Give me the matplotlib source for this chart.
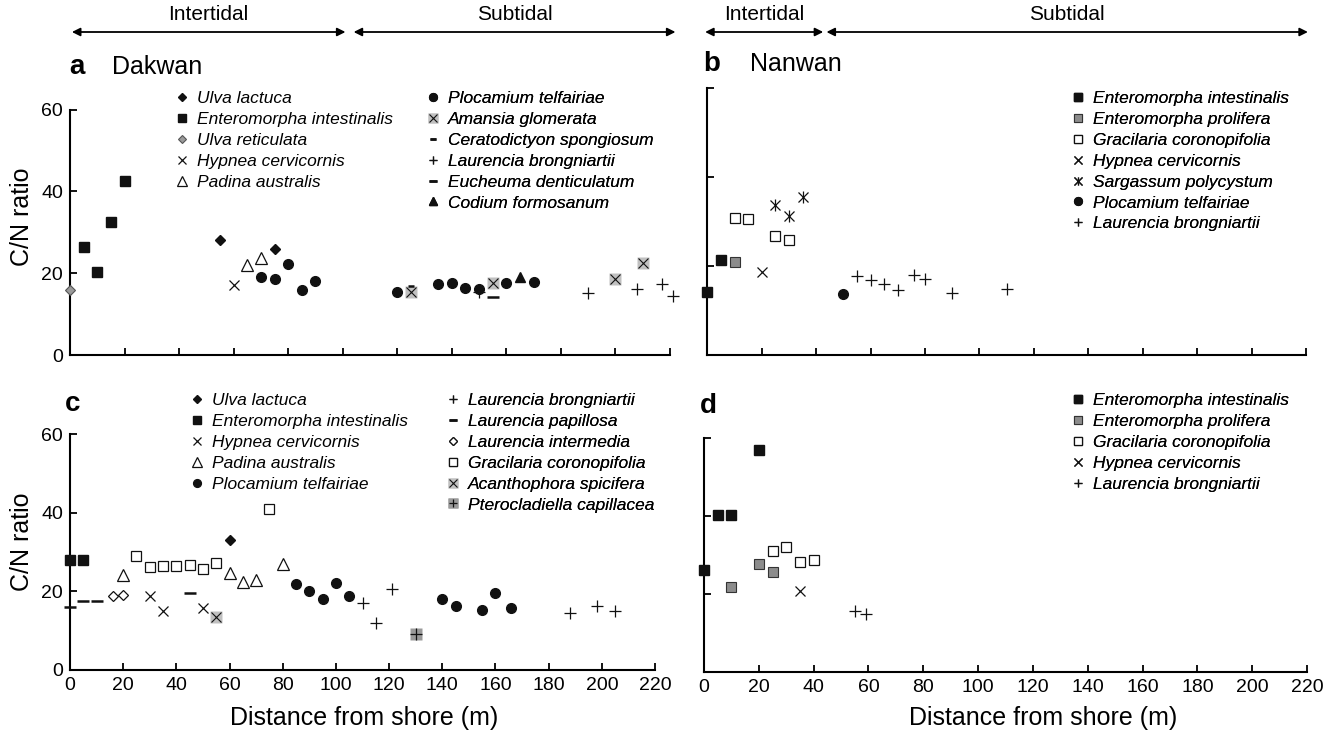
import matplotlib
matplotlib.use('Agg')
import matplotlib.pyplot as plt
from matplotlib.lines import Line2D

plt.rcParams['font.family'] = ['Liberation Sans', 'DejaVu Sans']

# ---- data (distance from shore in m, C/N ratio) ----
# a  Dakwan
a_ulva_lactuca_x = [55, 75]
a_ulva_lactuca_y = [28.0, 26.0]
a_entero_int_x = [5, 10, 15, 20]
a_entero_int_y = [26.3, 20.2, 32.5, 42.5]
a_ulva_ret_x = [0]
a_ulva_ret_y = [16.0]
a_hypnea_x = [60]
a_hypnea_y = [17.2]
a_padina_x = [65, 70]
a_padina_y = [22.1, 23.6]
a_plocamium_x = [70, 75, 80, 85, 90, 120, 135, 140, 145, 150, 160, 170]
a_plocamium_y = [19.1, 18.5, 22.2, 15.8, 18.0, 15.3, 17.3, 17.5, 16.5, 16.2, 17.5, 17.9]
a_amansia_x = [125, 155, 200, 210]
a_amansia_y = [15.3, 17.5, 18.5, 22.6]
a_cerato_x = [125]
a_cerato_y = [16.9]
a_laur_brong_x = [150, 190, 208, 217, 221]
a_laur_brong_y = [15.3, 15.2, 16.1, 17.3, 14.5]
a_eucheuma_x = [155]
a_eucheuma_y = [14.2]
a_codium_x = [165]
a_codium_y = [19.0]

# b  Nanwan
b_entero_int_x = [0, 5]
b_entero_int_y = [14.2, 21.3]
b_entero_pro_x = [10]
b_entero_pro_y = [21.0]
b_gracilaria_x = [10, 15, 25, 30]
b_gracilaria_y = [30.7, 30.5, 26.8, 25.9]
b_hypnea_x = [20]
b_hypnea_y = [18.6]
b_sargassum_x = [25, 30, 35]
b_sargassum_y = [33.6, 31.3, 35.6]
b_plocamium_x = [50]
b_plocamium_y = [13.6]
b_laur_brong_x = [55, 60, 65, 70, 76, 80, 90, 110]
b_laur_brong_y = [17.7, 16.8, 15.9, 14.5, 18.0, 17.0, 14.0, 14.9]

# c  Dakwan (second survey)
c_ulva_lactuca_x = [60]
c_ulva_lactuca_y = [33.1]
c_entero_int_x = [0, 5]
c_entero_int_y = [27.9, 28.0]
c_hypnea_x = [30, 35, 50]
c_hypnea_y = [18.9, 15.1, 15.9]
c_padina_x = [20, 60, 65, 70, 80]
c_padina_y = [24.3, 24.8, 22.5, 22.9, 27.1]
c_plocamium_x = [85, 90, 95, 100, 105, 140, 145, 155, 160, 166]
c_plocamium_y = [21.8, 20.2, 18.2, 22.1, 18.8, 18.0, 16.4, 15.3, 19.7, 15.9]
c_laur_brong_x = [110, 115, 121, 188, 198, 205]
c_laur_brong_y = [17.1, 12.0, 20.5, 14.4, 16.3, 15.0]
c_laur_pap_x = [0, 5, 10, 45]
c_laur_pap_y = [16.1, 17.6, 17.6, 19.7]
c_laur_int_x = [16, 20]
c_laur_int_y = [18.8, 19.1]
c_gracilaria_x = [25, 30, 35, 40, 45, 50, 55, 75]
c_gracilaria_y = [29.1, 26.2, 26.5, 26.5, 26.7, 25.6, 27.3, 41.1]
c_acantho_x = [55]
c_acantho_y = [13.6]
c_ptero_x = [130]
c_ptero_y = [9.2]

# d  Nanwan (second survey)
d_entero_int_x = [0, 5, 10, 20]
d_entero_int_y = [26.1, 40.3, 40.3, 57.0]
d_entero_pro_x = [10, 20, 25]
d_entero_pro_y = [21.8, 27.6, 25.6]
d_gracilaria_x = [25, 30, 35, 40]
d_gracilaria_y = [31.1, 32.1, 28.1, 28.7]
d_hypnea_x = [35]
d_hypnea_y = [20.8]
d_laur_brong_x = [55, 59]
d_laur_brong_y = [15.6, 14.8]

# zone extents along the shore (m)
a_zones = [('Intertidal', 0.7, 101), ('Subtidal', 104, 222)]
b_zones = [('Intertidal', -0.8, 42.6), ('Subtidal', 43.8, 220.7)]

# ---- marker styles ----
K = '#111111'
STYLES = {
    'Ulva lactuca': [dict(marker='D', ms=5.5, mfc=K, mec=K)],
    'Enteromorpha intestinalis': [dict(marker='s', ms=7, mfc=K, mec=K)],
    'Ulva reticulata': [dict(marker='D', ms=5.5, mfc='#9a9a9a', mec='#555555', mew=0.8)],
    'Hypnea cervicornis': [dict(marker='x', ms=7, mec=K, mew=0.9)],
    'Padina australis': [dict(marker='^', ms=9, mfc='white', mec=K, mew=0.9)],
    'Plocamium telfairiae': [dict(marker='o', ms=7, mfc=K, mec=K)],
    'Amansia glomerata': [dict(marker='s', ms=9, mfc='#c0c0c0', mec='none'),
                          dict(marker='x', ms=7, mec=K, mew=0.8)],
    'Ceratodictyon spongiosum': [dict(marker='_', ms=5, mec=K, mew=1.8)],
    'Laurencia brongniartii': [dict(marker='+', ms=8, mec=K, mew=0.9)],
    'Eucheuma denticulatum': [dict(marker='_', ms=8, mec=K, mew=1.8)],
    'Codium formosanum': [dict(marker='^', ms=7.5, mfc=K, mec=K)],
    'Enteromorpha prolifera': [dict(marker='s', ms=7, mfc='#8c8c8c', mec='#333333', mew=0.8)],
    'Gracilaria coronopifolia': [dict(marker='s', ms=7, mfc='white', mec=K, mew=0.9)],
    'Sargassum polycystum': [dict(marker='x', ms=6.5, mec=K, mew=0.9),
                             dict(marker='|', ms=8, mec=K, mew=0.9)],
    'Laurencia papillosa': [dict(marker='_', ms=8, mec=K, mew=1.8)],
    'Laurencia intermedia': [dict(marker='D', ms=5.5, mfc='white', mec=K, mew=0.9)],
    'Acanthophora spicifera': [dict(marker='s', ms=9, mfc='#c0c0c0', mec='none'),
                               dict(marker='x', ms=7, mec=K, mew=0.8)],
    'Pterocladiella capillacea': [dict(marker='s', ms=9, mfc='#9a9a9a', mec='none'),
                                  dict(marker='+', ms=8, mec=K, mew=0.9)],
}

W, H = 1339, 738
fig = plt.figure(figsize=(W / 100, H / 100), dpi=100)


def fx(x):
    return x / W


def fy(y):
    return 1 - y / H


def make_axes(left, right, bottom, top):
    return fig.add_axes([fx(left), fy(bottom), fx(right - left), (bottom - top) / H])


def setup(ax, xlabels, ylabels):
    ax.set_xlim(0, 220)
    ax.set_ylim(0, 60)
    ax.set_xticks(range(0, 221, 20))
    ax.set_yticks([0, 20, 40, 60])
    for s in ['top', 'right']:
        ax.spines[s].set_visible(False)
    for s in ['left', 'bottom']:
        ax.spines[s].set_linewidth(1.5)
    ax.tick_params(direction='in', length=5, width=1.3, labelsize=14, pad=5)
    if not xlabels:
        ax.set_xticklabels([])
    if not ylabels:
        ax.set_yticklabels([])


def plot_species(ax, name, xs, ys):
    for layer in STYLES[name]:
        ax.plot(xs, ys, ls='none', clip_on=False, zorder=3, **layer)


def add_legend(ax, names, cx, cy):
    handles = []
    for n in names:
        parts = []
        for layer in STYLES[n]:
            kw = dict(layer)
            kw['ms'] = kw['ms'] * 0.8
            parts.append(Line2D([], [], ls='none', **kw))
        handles.append(tuple(parts))
    leg = ax.legend(handles, names, loc='upper left',
                    bbox_to_anchor=(fx(cx - 5), fy(cy - 6)),
                    bbox_transform=fig.transFigure, frameon=False,
                    borderpad=0, borderaxespad=0, handlelength=0.6,
                    handletextpad=0.55, labelspacing=0.33,
                    prop=dict(style='italic', size=12.5))
    ax.add_artist(leg)


def zones(ax, zone_list, y_arrow, y_text):
    for label, x0, x1 in zone_list:
        ax.annotate('', xy=(x1, fy(y_arrow)), xytext=(x0, fy(y_arrow)),
                    xycoords=('data', 'figure fraction'),
                    textcoords=('data', 'figure fraction'),
                    annotation_clip=False,
                    arrowprops=dict(arrowstyle='<|-|>', color='black', lw=1.3,
                                    mutation_scale=12, shrinkA=0, shrinkB=0))
        ax.annotate(label, xy=((x0 + x1) / 2, fy(y_text)),
                    xycoords=('data', 'figure fraction'), ha='center',
                    va='center', fontsize=15, annotation_clip=False)


ax_a = make_axes(70, 670, 355, 109.6)
ax_b = make_axes(707.3, 1306, 355, 88)
ax_c = make_axes(70, 655, 670, 434.3)
ax_d = make_axes(704, 1307, 671.7, 438.3)

setup(ax_a, False, True)
setup(ax_b, False, False)
setup(ax_c, True, True)
setup(ax_d, True, False)

# panel a
plot_species(ax_a, 'Ulva reticulata', a_ulva_ret_x, a_ulva_ret_y)
plot_species(ax_a, 'Enteromorpha intestinalis', a_entero_int_x, a_entero_int_y)
plot_species(ax_a, 'Ulva lactuca', a_ulva_lactuca_x, a_ulva_lactuca_y)
plot_species(ax_a, 'Hypnea cervicornis', a_hypnea_x, a_hypnea_y)
plot_species(ax_a, 'Padina australis', a_padina_x, a_padina_y)
plot_species(ax_a, 'Plocamium telfairiae', a_plocamium_x, a_plocamium_y)
plot_species(ax_a, 'Amansia glomerata', a_amansia_x, a_amansia_y)
plot_species(ax_a, 'Ceratodictyon spongiosum', a_cerato_x, a_cerato_y)
plot_species(ax_a, 'Laurencia brongniartii', a_laur_brong_x, a_laur_brong_y)
plot_species(ax_a, 'Eucheuma denticulatum', a_eucheuma_x, a_eucheuma_y)
plot_species(ax_a, 'Codium formosanum', a_codium_x, a_codium_y)
add_legend(ax_a, ['Ulva lactuca', 'Enteromorpha intestinalis', 'Ulva reticulata',
                  'Hypnea cervicornis', 'Padina australis'], 182, 97)
add_legend(ax_a, ['Plocamium telfairiae', 'Amansia glomerata', 'Ceratodictyon spongiosum',
                  'Laurencia brongniartii', 'Eucheuma denticulatum', 'Codium formosanum'],
           433, 97)

# panel b
plot_species(ax_b, 'Enteromorpha intestinalis', b_entero_int_x, b_entero_int_y)
plot_species(ax_b, 'Enteromorpha prolifera', b_entero_pro_x, b_entero_pro_y)
plot_species(ax_b, 'Gracilaria coronopifolia', b_gracilaria_x, b_gracilaria_y)
plot_species(ax_b, 'Hypnea cervicornis', b_hypnea_x, b_hypnea_y)
plot_species(ax_b, 'Sargassum polycystum', b_sargassum_x, b_sargassum_y)
plot_species(ax_b, 'Plocamium telfairiae', b_plocamium_x, b_plocamium_y)
plot_species(ax_b, 'Laurencia brongniartii', b_laur_brong_x, b_laur_brong_y)
add_legend(ax_b, ['Enteromorpha intestinalis', 'Enteromorpha prolifera',
                  'Gracilaria coronopifolia', 'Hypnea cervicornis', 'Sargassum polycystum',
                  'Plocamium telfairiae', 'Laurencia brongniartii'], 1078, 97)

# panel c
plot_species(ax_c, 'Enteromorpha intestinalis', c_entero_int_x, c_entero_int_y)
plot_species(ax_c, 'Laurencia papillosa', c_laur_pap_x, c_laur_pap_y)
plot_species(ax_c, 'Laurencia intermedia', c_laur_int_x, c_laur_int_y)
plot_species(ax_c, 'Padina australis', c_padina_x, c_padina_y)
plot_species(ax_c, 'Gracilaria coronopifolia', c_gracilaria_x, c_gracilaria_y)
plot_species(ax_c, 'Hypnea cervicornis', c_hypnea_x, c_hypnea_y)
plot_species(ax_c, 'Acanthophora spicifera', c_acantho_x, c_acantho_y)
plot_species(ax_c, 'Ulva lactuca', c_ulva_lactuca_x, c_ulva_lactuca_y)
plot_species(ax_c, 'Plocamium telfairiae', c_plocamium_x, c_plocamium_y)
plot_species(ax_c, 'Laurencia brongniartii', c_laur_brong_x, c_laur_brong_y)
plot_species(ax_c, 'Pterocladiella capillacea', c_ptero_x, c_ptero_y)
add_legend(ax_c, ['Ulva lactuca', 'Enteromorpha intestinalis', 'Hypnea cervicornis',
                  'Padina australis', 'Plocamium telfairiae'], 197, 399)
add_legend(ax_c, ['Laurencia brongniartii', 'Laurencia papillosa', 'Laurencia intermedia',
                  'Gracilaria coronopifolia', 'Acanthophora spicifera',
                  'Pterocladiella capillacea'], 453, 399)

# panel d
plot_species(ax_d, 'Enteromorpha intestinalis', d_entero_int_x, d_entero_int_y)
plot_species(ax_d, 'Enteromorpha prolifera', d_entero_pro_x, d_entero_pro_y)
plot_species(ax_d, 'Gracilaria coronopifolia', d_gracilaria_x, d_gracilaria_y)
plot_species(ax_d, 'Hypnea cervicornis', d_hypnea_x, d_hypnea_y)
plot_species(ax_d, 'Laurencia brongniartii', d_laur_brong_x, d_laur_brong_y)
add_legend(ax_d, ['Enteromorpha intestinalis', 'Enteromorpha prolifera',
                  'Gracilaria coronopifolia', 'Hypnea cervicornis',
                  'Laurencia brongniartii'], 1078, 399)

# zone arrows above the top panels
zones(ax_a, a_zones, 32, 15)
zones(ax_b, b_zones, 32, 15)

# panel titles and axis labels
fig.text(fx(77), fy(67), 'a', fontsize=20, fontweight='bold', ha='center', va='center')
fig.text(fx(112), fy(67), 'Dakwan', fontsize=18, ha='left', va='center')
fig.text(fx(712), fy(64), 'b', fontsize=20, fontweight='bold', ha='center', va='center')
fig.text(fx(750), fy(64), 'Nanwan', fontsize=18, ha='left', va='center')
fig.text(fx(73), fy(404), 'c', fontsize=20, fontweight='bold', ha='center', va='center')
fig.text(fx(708), fy(406), 'd', fontsize=20, fontweight='bold', ha='center', va='center')

fig.text(fx(22), fy(217), 'C/N ratio', fontsize=18, rotation=90, ha='center', va='center')
fig.text(fx(22), fy(542), 'C/N ratio', fontsize=18, rotation=90, ha='center', va='center')
fig.text(fx(364), fy(718), 'Distance from shore (m)', fontsize=18, ha='center', va='center')
fig.text(fx(1043), fy(718), 'Distance from shore (m)', fontsize=18, ha='center', va='center')

fig.savefig('out.png', dpi=100)
